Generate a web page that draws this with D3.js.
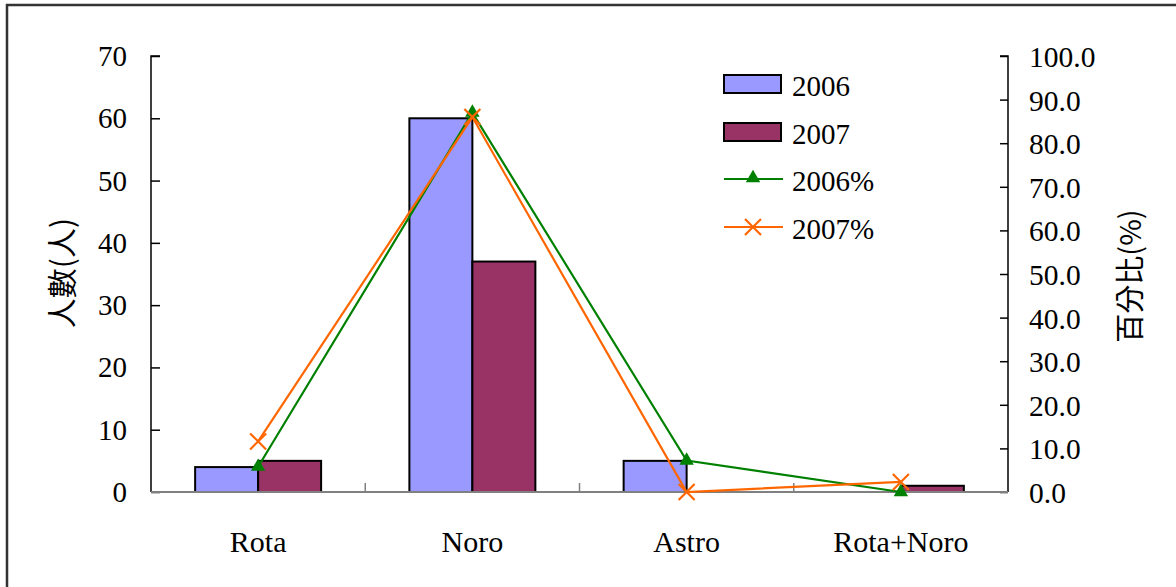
<!DOCTYPE html>
<html><head><meta charset="utf-8">
<script src="https://cdn.jsdelivr.net/npm/d3@7"></script>
<style>body{margin:0;background:#fff}svg{display:block}</style>
</head><body>
<script>
const categories = ["Rota","Noro","Astro","Rota+Noro"];
const series = ["2006","2007"];
const count2006 = [4,60,5,0];
const count2007 = [5,37,0,1];
const pct2006 = [5.8,87.0,7.2,0.0];
const pct2007 = [11.6,86.0,0.0,2.3];
const leftTicks = [0,10,20,30,40,50,60,70];
const rightTicks = [0,10,20,30,40,50,60,70,80,90,100];
const barColors = ["#9999FF","#993366"];
const lineColors = ["#008000","#FF6600"];

const W=1176,H=587;
const svg=d3.select("body").append("svg").attr("width",W).attr("height",H);
svg.append("rect").attr("x",7).attr("y",5).attr("width",1300).attr("height",700)
  .attr("fill","none").attr("stroke","#333").attr("stroke-width",2.5);

const L=151,R=1008,T=56,B=492;
const x0=d3.scaleBand().domain(categories).range([L,R]).padding(0);
const bw=x0.bandwidth();
const pad=bw*0.206;
const x1=d3.scaleBand().domain(series).range([pad,bw-pad]).padding(0);
const yL=d3.scaleLinear().domain([0,70]).range([B,T]);
const yR=d3.scaleLinear().domain([0,100]).range([B,T]);
const serif="'Liberation Serif','Times New Roman',serif";

// bars
const counts=[count2006,count2007];
series.forEach((s,si)=>{
  svg.append("g").selectAll("rect").data(categories).join("rect")
    .attr("x",c=>x0(c)+x1(s))
    .attr("y",(c,i)=>yL(counts[si][i]))
    .attr("width",x1.bandwidth())
    .attr("height",(c,i)=>B-yL(counts[si][i]))
    .attr("fill",barColors[si]).attr("stroke","#000").attr("stroke-width",2);
});

// axes
const gL=svg.append("g").attr("transform",`translate(${L},0)`)
  .call(d3.axisRight(yL).tickValues(leftTicks).tickSize(9).tickFormat(""));
gL.selectAll("path,line").attr("stroke","#000").attr("stroke-width",1.5);
gL.select(".domain").attr("d",`M9,${T}H0V${B}`);
svg.append("g").selectAll("text").data(leftTicks).join("text")
  .attr("x",127).attr("y",d=>yL(d)+10).attr("text-anchor","end")
  .attr("font-family",serif).attr("font-size",29).text(d=>d);

const gR=svg.append("g").attr("transform",`translate(${R},0)`)
  .call(d3.axisLeft(yR).tickValues(rightTicks).tickSize(8).tickFormat(""));
gR.selectAll("path,line").attr("stroke","#000").attr("stroke-width",1.5);
gR.select(".domain").attr("d",`M-8,${T}H0V${B}`);
svg.append("g").selectAll("text").data(rightTicks).join("text")
  .attr("x",1029).attr("y",d=>yR(d)+11).attr("text-anchor","start")
  .attr("font-family",serif).attr("font-size",29.5).text(d=>d.toFixed(1));

const gB=svg.append("g").attr("transform",`translate(0,${B})`)
  .call(d3.axisTop(x0).tickSize(0).tickFormat(""));
gB.select(".domain").attr("stroke","#808080").attr("stroke-width",2).attr("d",`M${L},0H${R}`);
svg.append("g").selectAll("line").data(categories.slice(1)).join("line")
  .attr("x1",c=>x0(c)).attr("x2",c=>x0(c)).attr("y1",B).attr("y2",B-9)
  .attr("stroke","#808080").attr("stroke-width",1.5);
svg.append("g").selectAll("text").data(categories).join("text")
  .attr("x",c=>x0(c)+bw/2).attr("y",552).attr("text-anchor","middle")
  .attr("font-family",serif).attr("font-size",30).text(c=>c);

// axis titles
const cjk="'Noto Sans CJK TC','Noto Sans CJK SC',sans-serif";
svg.append("text").attr("transform","translate(60,273) rotate(-90)")
  .attr("text-anchor","middle").attr("dominant-baseline","central")
  .attr("font-family",cjk).attr("font-size",30).text("人數(人)");
svg.append("text").attr("transform","translate(1128,276) rotate(-90)")
  .attr("text-anchor","middle").attr("dominant-baseline","central")
  .attr("font-family",cjk).attr("font-size",29).text("百分比(%)");

// lines
const pcts=[pct2006,pct2007];
const cx=c=>x0(c)+bw/2;
const tri=d3.symbol().type(d3.symbolTriangle).size(90);
function cross(g,x,y,col){
  const s=8;
  g.append("path").attr("d",`M${x-s},${y-s}L${x+s},${y+s}M${x-s},${y+s}L${x+s},${y-s}`)
    .attr("stroke",col).attr("stroke-width",2.2).attr("fill","none");
}
pcts.forEach((p,si)=>{
  const line=d3.line().x((d,i)=>cx(categories[i])).y(d=>yR(d));
  svg.append("path").datum(p).attr("d",line).attr("fill","none")
    .attr("stroke",lineColors[si]).attr("stroke-width",2.2);
  const g=svg.append("g");
  p.forEach((d,i)=>{
    if(si===0) g.append("path").attr("d",tri).attr("transform",`translate(${cx(categories[i])},${yR(d)})`).attr("fill",lineColors[si]);
    else cross(g,cx(categories[i]),yR(d),lineColors[si]);
  });
});

// legend
const lg=svg.append("g");
const legendY=[84,132,179,227];
const labels=["2006","2007","2006%","2007%"];
labels.forEach((t,i)=>{
  const y=legendY[i];
  if(i<2){
    lg.append("rect").attr("x",724).attr("y",y-9).attr("width",57).attr("height",18)
      .attr("fill",barColors[i]).attr("stroke","#000").attr("stroke-width",2);
  } else {
    const col=lineColors[i-2];
    lg.append("line").attr("x1",724).attr("x2",783).attr("y1",y).attr("y2",y)
      .attr("stroke",col).attr("stroke-width",2.2);
    if(i===2) lg.append("path").attr("d",tri).attr("transform",`translate(753,${y-1})`).attr("fill",col);
    else cross(lg,753,y,col);
  }
  lg.append("text").attr("x",792).attr("y",y+12).attr("font-family",serif)
    .attr("font-size",29).text(t);
});
</script>
</body></html>
